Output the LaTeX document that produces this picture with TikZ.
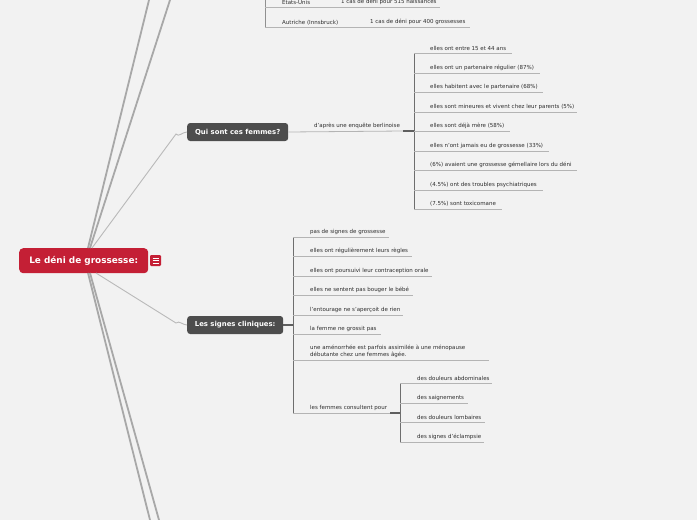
\documentclass[tikz,border=0pt]{standalone}
\usepackage{fontspec}
\setmainfont{DejaVu Sans}
\definecolor{bgc}{HTML}{F2F2F2}
\definecolor{rootred}{HTML}{C41F35}
\definecolor{darkbox}{HTML}{4D4D4D}
\definecolor{linegray}{HTML}{A8A8A8}
\definecolor{uline}{HTML}{B4B4B4}
\definecolor{brk}{HTML}{6E6E6E}
\definecolor{txt}{HTML}{2E2E2E}
\begin{document}
\begin{tikzpicture}[x=1pt,y=-1pt,
  itemtxt/.style={anchor=south west,inner sep=0pt,font=\fontsize{5.5}{6.8}\selectfont,text=txt,align=left},
  ul/.style={draw=uline,line width=0.8pt},
  bracketline/.style={draw=brk,line width=0.9pt},
  stub/.style={draw=darkbox!90,line width=1.6pt},
  mainline/.style={draw=linegray,line width=1.8pt},
  subline/.style={draw=linegray!80,line width=0.9pt},
  titlebox/.style={fill=darkbox,rounded corners=3pt,text=white,font=\fontsize{6.9}{8}\selectfont\bfseries,inner sep=0pt,minimum height=18pt,anchor=west},
]
\fill[bgc] (0,0) rectangle (697,520);
\useasboundingbox (0,0) rectangle (697,520);

% root
\node[fill=rootred,rounded corners=4pt,text=white,font=\fontsize{8.9}{10}\selectfont\bfseries,minimum width=129pt,minimum height=25pt,inner sep=0pt,anchor=north west] (root) at (19,248) {Le déni de grossesse:};
\node[fill=rootred,rounded corners=1.2pt,minimum size=11pt,inner sep=0pt] (icon) at (155.5,260.5) {};
\foreach \yy in {-2.5,0,2.5}{\draw[white,line width=0.7pt] ([xshift=-3pt,yshift=\yy pt]icon.center) -- ([xshift=3pt,yshift=\yy pt]icon.center);}

% off-canvas branches
\coordinate (hubT) at (88,248);
\coordinate (hubB) at (88,273);
\coordinate (offA) at (149,0);
\coordinate (offB) at (170,0);
\coordinate (offC) at (150,520);
\coordinate (offD) at (159,520);
\draw[mainline] (hubT) -- (offA);
\draw[mainline] ([xshift=2pt]hubT) -- (offB);
\draw[mainline] (hubB) -- (offC);
\draw[mainline] ([xshift=2pt]hubB) -- (offD);

% title nodes
\node[titlebox,minimum width=101pt] (qui) at (187,132) {Qui sont ces femmes?};
\node[titlebox,minimum width=96pt] (sig) at (187,325) {Les signes cliniques:};
\draw[subline] ([xshift=4pt]hubT) -- (176,134) to[out=-55,in=180] (qui.west);
\draw[subline] ([xshift=8pt]hubB) -- (176,323) to[out=40,in=180] (sig.west);

% top section (partly off canvas)
\coordinate (tb0) at (265,0);
\coordinate (tb1) at (265,7);
\coordinate (tb2) at (265,27);
\draw[bracketline,draw=uline!80!black] (tb0) -- (tb2);
\draw[ul] (tb1) -- (440,7);
\draw[ul] (tb2) -- (470,27);
\node[itemtxt] (us) at (282,5) {Etats-Unis};
\node[itemtxt] (usv) at (341,5) {1 cas de déni pour 515 naissances};
\node[itemtxt] (at) at (282,25) {Autriche (Innsbruck)};
\node[itemtxt] (atv) at (370,25) {1 cas de déni pour 400 grossesses};

% Qui sont ces femmes
\node[itemtxt] (berl) at (314,129) {d'après une enquête berlinoise};
\coordinate (qb) at (414,131);
\draw[ul] (qui.east) -- (403,131);
\draw[stub] (403,131) -- (qb);
\coordinate (qtop) at (414,53);
\coordinate (qbot) at (414,209);
\draw[bracketline] (qtop) -- (qbot);
\foreach \y/\e/\t/\n in {
 53/512/{elles ont entre 15 et 44 ans}/q1,
 73/540/{elles ont un partenaire régulier (87\%)}/q2,
 92/543/{elles habitent avec le partenaire (68\%)}/q3,
 112/577/{elles sont mineures et vivent chez leur parents (5\%)}/q4,
 131/510/{elles sont déjà mère (58\%)}/q5,
 151/549/{elles n'ont jamais eu de grossesse (33\%)}/q6,
 170/577/{(6\%) avaient une grossesse gémellaire lors du déni}/q7,
 190/543/{(4.5\%) ont des troubles psychiatriques}/q8,
 209/502/{(7.5\%) sont toxicomane}/q9}{
  \node[itemtxt] (\n) at (430,\y-2.5) {\t};
  \coordinate (\n s) at (414,\y);
  \draw[ul] (\n s) -- (\e,\y);
}

% Les signes cliniques
\coordinate (sb) at (293,325);
\draw[stub] (sig.east) -- (sb);
\coordinate (stop) at (293,237);
\coordinate (sbot) at (293,413);
\draw[bracketline] (stop) -- (sbot);
\foreach \y/\e/\t/\n in {
 237/389/{pas de signes de grossesse}/s1,
 256/412/{elles ont régulièrement leurs règles}/s2,
 276/432/{elles ont poursuivi leur contraception orale}/s3,
 295/413/{elles ne sentent pas bouger le bébé}/s4,
 315/403/{l'entourage ne s'aperçoit de rien}/s5,
 334/381/{la femme ne grossit pas}/s6}{
  \node[itemtxt] (\n) at (310,\y-2.5) {\t};
  \coordinate (\n s) at (293,\y);
  \draw[ul] (\n s) -- (\e,\y);
}
\node[itemtxt] (s7) at (310,357.5) {une aménorrhée est parfois assimilée à une ménopause\\débutante chez une femmes âgée.};
\coordinate (s7s) at (293,360);
\draw[ul] (s7s) -- (489,360);
\node[itemtxt] (s8) at (310,410.5) {les femmes consultent pour};
\coordinate (s8s) at (293,413);
\draw[ul] (s8s) -- (390,413);
\coordinate (cb) at (400,413);
\draw[stub] (390,413) -- (cb);
\coordinate (ctop) at (400,383);
\coordinate (cbot) at (400,442);
\draw[bracketline] (ctop) -- (cbot);
\foreach \y/\e/\t/\n in {
 383/492/{des douleurs abdominales}/c1,
 403/468/{des saignements}/c2,
 422/485/{des douleurs lombaires}/c3,
 442/484/{des signes d'éclampsie}/c4}{
  \node[itemtxt] (\n) at (417,\y-2.5) {\t};
  \coordinate (\n s) at (400,\y);
  \draw[ul] (\n s) -- (\e,\y);
}
\end{tikzpicture}
\end{document}
